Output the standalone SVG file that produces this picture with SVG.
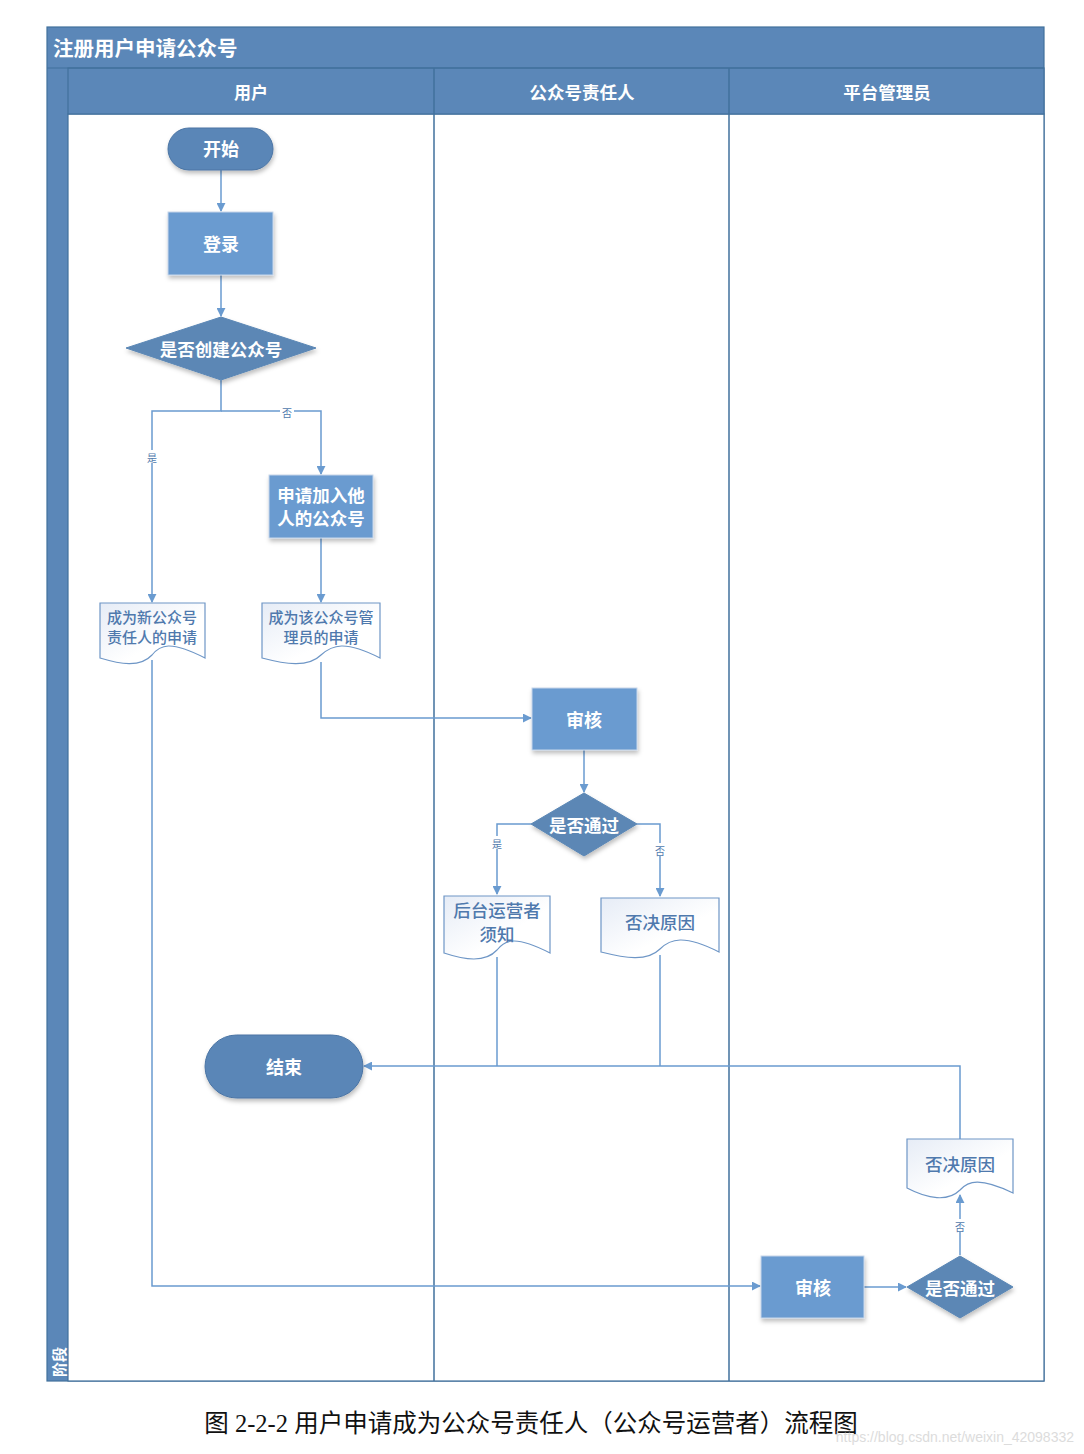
<svg xmlns="http://www.w3.org/2000/svg" width="1084" height="1454" viewBox="0 0 1084 1454">
<defs>
<linearGradient id="docg" x1="0" y1="0" x2="1" y2="1">
<stop offset="0" stop-color="#e6ecf6"/>
<stop offset="0.6" stop-color="#ffffff"/>
</linearGradient>
<filter id="sh" x="-20%" y="-20%" width="140%" height="150%">
<feDropShadow dx="1" dy="3" stdDeviation="2" flood-color="#000" flood-opacity="0.25"/>
</filter>
<marker id="arr" viewBox="0 0 10 10" refX="9" refY="5" markerWidth="9" markerHeight="9" markerUnits="userSpaceOnUse" orient="auto">
<path d="M0,0 L10,5 L0,10 z" fill="#6a9bd0"/>
</marker>
</defs>
<style>
.bar{fill:#5b87b8;stroke:#41719c;stroke-width:1.2}
.lane{fill:#ffffff;stroke:#41719c;stroke-width:1.2}
.pill{fill:#5a86b7;stroke:#4a74a4;stroke-width:1}
.box{fill:#6a9bd0;stroke:#c6d6ea;stroke-width:1}
.dia{fill:#5b87b5;stroke:#5b87b5;stroke-width:1}
.doc{fill:url(#docg);stroke:#6e96c6;stroke-width:1.2}
.w{font-family:"Noto Sans CJK SC","Liberation Sans",sans-serif;fill:#ffffff;font-weight:bold;text-anchor:middle;dominant-baseline:central}
.d{font-family:"Noto Sans CJK SC","Liberation Sans",sans-serif;fill:#4f79ad;font-weight:500;text-anchor:middle;dominant-baseline:central}
.c{fill:none;stroke:#6a9bd0;stroke-width:1.5}
.lbl{font-family:"Noto Sans CJK SC","Liberation Sans",sans-serif;font-size:10px;fill:#4f79ad;text-anchor:middle;dominant-baseline:central}
</style>
<rect width="1084" height="1454" fill="#ffffff"/>
<g id="pool">
<rect class="bar" x="47" y="27" width="997" height="1354"/>
<rect class="lane" x="68" y="114" width="976" height="1267"/>
<rect class="bar" x="68" y="68" width="976" height="46"/>
<line x1="434" y1="68" x2="434" y2="1381" stroke="#41719c" stroke-width="1.5"/>
<line x1="729" y1="68" x2="729" y2="1381" stroke="#41719c" stroke-width="1.5"/>
<line x1="47" y1="68" x2="1044" y2="68" stroke="#41719c" stroke-width="1.2"/>
<text class="w" x="53" y="47" font-size="20.5" style="text-anchor:start">注册用户申请公众号</text>
<text class="w" x="251" y="91" font-size="17">用户</text>
<text class="w" x="582" y="91" font-size="17.5">公众号责任人</text>
<text class="w" x="887" y="91" font-size="17.5">平台管理员</text>
<text class="w" x="58" y="1362" font-size="15" transform="rotate(-90 58 1362)">阶段</text>
</g>
<g id="connectors">
<path class="c" d="M221,170 V211" marker-end="url(#arr)"/>
<path class="c" d="M221,275 V316" marker-end="url(#arr)"/>
<path class="c" d="M221,380 V411 H152 V602" marker-end="url(#arr)"/>
<path class="c" d="M221,411 H321 V474" marker-end="url(#arr)"/>
<path class="c" d="M321,538 V602" marker-end="url(#arr)"/>
<path class="c" d="M321,662 V718 H531" marker-end="url(#arr)"/>
<path class="c" d="M584,750 V792" marker-end="url(#arr)"/>
<path class="c" d="M531,824 H497 V894" marker-end="url(#arr)"/>
<path class="c" d="M637,824 H660 V896" marker-end="url(#arr)"/>
<path class="c" d="M497,957 V1066"/>
<path class="c" d="M660,955 V1066"/>
<path class="c" d="M960,1139 V1066 H364" marker-end="url(#arr)"/>
<path class="c" d="M152,660 V1286 H760" marker-end="url(#arr)"/>
<path class="c" d="M864,1287 H906" marker-end="url(#arr)"/>
<path class="c" d="M960,1255 V1195" marker-end="url(#arr)"/>
<rect x="280" y="405" width="14" height="13" fill="#fff"/>
<text class="lbl" x="287" y="412">否</text>
<rect x="145" y="450" width="14" height="13" fill="#fff"/>
<text class="lbl" x="152" y="457">是</text>
<rect x="490" y="836" width="14" height="13" fill="#fff"/>
<text class="lbl" x="497" y="843">是</text>
<rect x="653" y="843" width="14" height="13" fill="#fff"/>
<text class="lbl" x="660" y="850">否</text>
<rect x="953" y="1219" width="14" height="13" fill="#fff"/>
<text class="lbl" x="960" y="1226">否</text>
</g>
<g id="start">
<rect class="pill" x="168" y="128" width="105" height="42" rx="21" filter="url(#sh)"/>
<text class="w" x="221" y="148" font-size="18">开始</text>
</g>
<g id="login">
<rect class="box" x="168" y="212" width="105" height="63" filter="url(#sh)"/>
<text class="w" x="221" y="243" font-size="18">登录</text>
</g>
<g id="d1">
<polygon class="dia" points="221,317 316,348 221,380 126,348" filter="url(#sh)"/>
<text class="w" x="221" y="348" font-size="17.5">是否创建公众号</text>
</g>
<g id="join">
<rect class="box" x="269" y="475" width="104" height="63" filter="url(#sh)"/>
<text class="w" x="321" y="494" font-size="17.5">申请加入他</text>
<text class="w" x="321" y="517" font-size="17.5">人的公众号</text>
</g>
<g id="doc1">
<path class="doc" d="M100,603 H205 V658 C170,640 160,645 152,655 C140,668 120,664 100,658 Z"/>
<text class="d" x="152" y="616" font-size="15">成为新公众号</text>
<text class="d" x="152" y="636" font-size="15">责任人的申请</text>
</g>
<g id="doc2">
<path class="doc" d="M262,603 H380 V658 C345,640 332,645 321,655 C308,668 285,664 262,658 Z"/>
<text class="d" x="321" y="616" font-size="15">成为该公众号管</text>
<text class="d" x="321" y="636" font-size="15">理员的申请</text>
</g>
<g id="review1">
<rect class="box" x="532" y="688" width="105" height="62" filter="url(#sh)"/>
<text class="w" x="584" y="719" font-size="18">审核</text>
</g>
<g id="d2">
<polygon class="dia" points="584,793 637,824 584,856 531,824" filter="url(#sh)"/>
<text class="w" x="584" y="824" font-size="17.5">是否通过</text>
</g>
<g id="doc3">
<path class="doc" d="M444,896 H550 V953 C515,935 505,940 497,950 C485,963 465,960 444,953 Z"/>
<text class="d" x="497" y="909" font-size="17.5">后台运营者</text>
<text class="d" x="497" y="933" font-size="17.5">须知</text>
</g>
<g id="doc4">
<path class="doc" d="M601,898 H719 V952 C684,934 670,939 660,949 C647,962 625,958 601,952 Z"/>
<text class="d" x="660" y="921" font-size="17.5">否决原因</text>
</g>
<g id="end">
<rect class="pill" x="205" y="1035" width="158" height="63" rx="31.5" filter="url(#sh)"/>
<text class="w" x="284" y="1066" font-size="18">结束</text>
</g>
<g id="doc5">
<path class="doc" d="M907,1139 H1013 V1193 C980,1177 968,1181 960,1190 C948,1202 928,1199 907,1188 Z"/>
<text class="d" x="960" y="1163" font-size="17.5">否决原因</text>
</g>
<g id="review2">
<rect class="box" x="761" y="1256" width="103" height="62" filter="url(#sh)"/>
<text class="w" x="813" y="1287" font-size="18">审核</text>
</g>
<g id="d3">
<polygon class="dia" points="960,1256 1013,1287 960,1318 907,1287" filter="url(#sh)"/>
<text class="w" x="960" y="1287" font-size="17.5">是否通过</text>
</g>
<text x="531" y="1432" font-family="'Liberation Serif','Noto Sans CJK SC',serif" font-size="24.5" fill="#111" text-anchor="middle">图 2-2-2 用户申请成为公众号责任人（公众号运营者）流程图</text>
<text x="1074" y="1442" font-family="'Liberation Sans',sans-serif" font-size="14" fill="#dcdcdc" text-anchor="end">https://blog.csdn.net/weixin_42098332</text>
</svg>
